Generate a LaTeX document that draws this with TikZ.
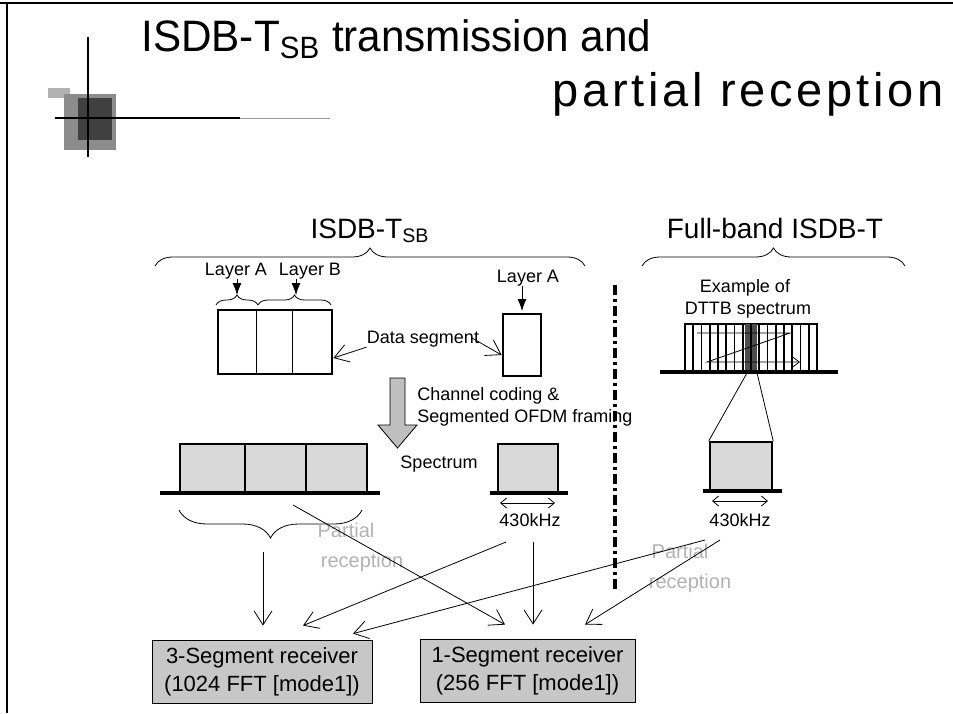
\documentclass[tikz,border=0pt]{standalone}
\usepackage{fontspec}
\setmainfont{Liberation Sans}
\newfontfamily\headfam[FakeStretch=0.96]{Liberation Sans}
\newfontfamily\widefam[LetterSpace=8]{Liberation Sans}
\usetikzlibrary{arrows.meta,decorations.pathreplacing}
\newcommand\titlefont{\headfam\fontsize{22}{26}\selectfont}
\newcommand\subtitlefont{\widefam\fontsize{23.5}{28}\selectfont}
\newcommand\headfont{\fontsize{14}{17}\selectfont}
\newcommand\bodyfont{\fontsize{9}{11}\selectfont}
\newcommand\rxfont{\fontsize{11}{14}\selectfont}
\newcommand\ghostfont{\fontsize{10}{12}\selectfont}
\tikzset{
  TitleStyle/.style = {font=\titlefont, inner sep=0pt},
  HeadStyle/.style = {font=\headfont, inner sep=0pt, anchor=base},
  TxtStyle/.style = {font=\bodyfont, inner sep=0pt, anchor=base},
  GhostStyle/.style = {font=\ghostfont, text=black!30, inner sep=0pt, anchor=base},
  SegStyle/.style = {draw, line width=1.4pt, inner sep=0pt},
  SpecStyle/.style = {draw, line width=1.2pt, fill=black!15, inner sep=0pt},
  RxStyle/.style = {draw, thin, fill=black!22, align=center, font=\rxfont,
                    inner sep=0pt},
  BraceStyle/.style = {decorate, decoration={brace, amplitude=#1}},
  MirrorBrace/.style = {BraceStyle=#1, decoration={mirror}},
  FillArrow/.style = {thin, -{Latex[length=6pt,width=4.5pt]}},
  OpenArrow/.style = {thin, -{Straight Barb[length=7pt,width=9pt]}},
  DblArrow/.style = {thin, {Straight Barb[length=3pt,width=5pt]}-{Straight Barb[length=3pt,width=5pt]}},
  BaseLine/.style = {line width=2pt},
  DashDot/.style = {line width=1.6pt, dash pattern=on 5pt off 2pt on 1.5pt off 2pt}
}

\begin{document}
\begin{tikzpicture}[x=0.5pt,y=-0.5pt]
  \useasboundingbox (0,0) rectangle (953,713);
  \draw[line width=1.2pt] (0,3) -- (953,3);
  \draw[line width=1pt] (7,3) -- (7,713);

  \fill[black!30] (48,88) rectangle (70,98);
  \fill[black!45] (64,94) rectangle (116,150);
  \fill[black!75] (78,98) rectangle (112,140);
  \draw[line width=1.3pt] (88,37) -- (88,157);
  \draw[line width=1.3pt] (55,118) -- (240,118);
  \draw[black!40] (240,118) -- (330,118);

  \node[TitleStyle, anchor=base west] (title) at (141,51) {ISDB-T\textsubscript{SB} transmission and};
  \node[TitleStyle, font=\subtitlefont, anchor=base east] (subtitle) at (944,106) {partial reception};

  \node[HeadStyle] (tsb) at (370,238) {ISDB-T\textsubscript{SB}};
  \node[HeadStyle] (full) at (775,238) {Full-band ISDB-T};
  \draw[BraceStyle=9pt] (155,266) -- (585,266);
  \draw[BraceStyle=9pt] (642,266) -- (905,266);
  \draw[DashDot] (615,285) -- (615,590);

  \node[TxtStyle] (layA) at (236,275) {Layer A};
  \node[TxtStyle] (layB) at (310,275) {Layer B};
  \node[TxtStyle] (layA2) at (528,282) {Layer A};
  \draw[BraceStyle=5pt] (216,305) -- (258,305);
  \draw[BraceStyle=5pt] (258,305) -- (331,305);
  \coordinate (tipA) at (237,295);
  \coordinate (tipB) at (296,295);
  \coordinate (tipC) at (522,311);
  \draw[FillArrow] (layA.south -| tipA) -- (tipA);
  \draw[FillArrow] (layB.south -| tipB) -- (tipB);
  \draw[FillArrow] (layA2.south -| tipC) -- (tipC);

  \node[SegStyle, minimum width=57pt, minimum height=32pt] (segL) at (275,342) {};
  \draw[line width=0.8pt] ([xshift=20pt]segL.north west) -- ([xshift=20pt]segL.south west);
  \draw[line width=0.8pt] ([xshift=38pt]segL.north west) -- ([xshift=38pt]segL.south west);
  \node[SegStyle, minimum width=19pt, minimum height=31pt] (segR) at (522,345) {};

  \node[TxtStyle] (dseg) at (423,343) {Data segment};
  \coordinate (dsR) at (472,338);
  \draw[OpenArrow] (dseg.south west) -- (segL.east |- 0,358);
  \draw[OpenArrow] (dsR) -- (segR.west |- 0,355);

  \draw[thin, fill=black!25] (390,378) -- (405,378) -- (405,425) -- (417,425)
     -- (397.5,448) -- (378,425) -- (390,425) -- cycle;
  \node[TxtStyle, anchor=base west] (chan1) at (417,400) {Channel coding \&};
  \node[TxtStyle, anchor=base west] (chan2) at (417,422) {Segmented OFDM framing};

  \node[SpecStyle, minimum width=93.5pt, minimum height=24pt] (specL) at (273.5,468) {};
  \draw[line width=1.2pt] ([xshift=33pt]specL.north west) -- ([xshift=33pt]specL.south west);
  \draw[line width=1.2pt] ([xshift=63.5pt]specL.north west) -- ([xshift=63.5pt]specL.south west);
  \draw[BaseLine] (160,493) -- (380,493);
  \node[TxtStyle] (spec) at (439,468) {Spectrum};
  \node[SpecStyle, minimum width=30pt, minimum height=24pt] (specR) at (528,468) {};
  \draw[BaseLine] (490,493) -- (568,493);
  \draw[DblArrow] (500,503) -- (555,503);
  \node[TxtStyle] (khzL) at (530,526) {430kHz};

  \node[TxtStyle] (ex1) at (745,292) {Example of};
  \node[TxtStyle] (ex2) at (748,314) {DTTB spectrum};
  \node[draw, line width=0.9pt, minimum width=66pt, minimum height=24pt, inner sep=0pt] (dttb) at (751,348) {};
  \fill[black!70] (745,324) rectangle (757,372);
  \foreach \i in {1,...,15}
    \draw[line width=0.8pt] ({685+\i*8.25},324) -- ({685+\i*8.25},372);
  \draw[BaseLine] (660,372) -- (838,372);
  \draw[thin, -{Straight Barb[length=4pt,width=6pt]}] (697,333) -- (790,333) -- (707,362) -- (800,362);

  \node[SpecStyle, minimum width=31pt, minimum height=24pt] (specF) at (741,466) {};
  \draw[BaseLine] (703,491) -- (782,491);
  \draw[thin] (dttb.south -| 747,0) -- (specF.north west);
  \draw[thin] (dttb.south -| 757,0) -- (specF.north east);
  \draw[DblArrow] (712,501) -- (768,501);
  \node[TxtStyle] (khzF) at (740,526) {430kHz};

  \draw[MirrorBrace=14pt] (179,510) -- (362,510);

  \node[GhostStyle] (pr1) at (346,537) {Partial};
  \node[GhostStyle] (pr2) at (362,567) {reception};
  \node[GhostStyle] (pr3) at (680,558) {Partial};
  \node[GhostStyle] (pr4) at (690,588) {reception};

  \node[RxStyle, minimum width=110pt, minimum height=31.5pt] (rx3) at (262,671.5) {3-Segment receiver\\(1024 FFT [mode1])};
  \node[RxStyle, minimum width=107.5pt, minimum height=31.5pt] (rx1) at (527.5,670.5) {1-Segment receiver\\(256 FFT [mode1])};

  \coordinate (s1) at (263,552);
  \coordinate (s2) at (293,505);
  \coordinate (s3) at (506,542);
  \coordinate (s4) at (533,542);
  \coordinate (s5) at (705,540);
  \coordinate (s6) at (720,540);
  \draw[OpenArrow] (s1) -- ([yshift=7pt]rx3.north -| s1);
  \draw[OpenArrow] (s2) -- ([yshift=7pt]rx1.north -| 505,0);
  \draw[OpenArrow] (s3) -- ([yshift=7pt]rx3.north -| 303,0);
  \draw[OpenArrow] (s4) -- ([yshift=7pt]rx1.north -| s4);
  \draw[OpenArrow] (s5) -- ([yshift=3pt]rx3.north -| 353,0);
  \draw[OpenArrow] (s6) -- ([yshift=7pt]rx1.north -| 585,0);
\end{tikzpicture}
\end{document}
